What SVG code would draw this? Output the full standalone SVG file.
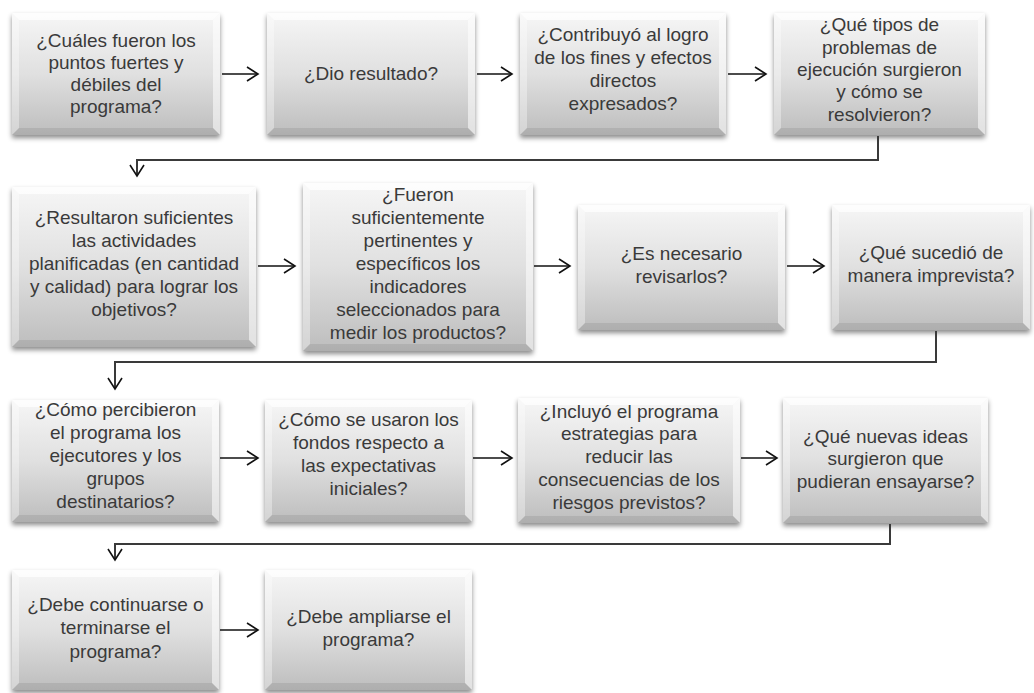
<svg xmlns="http://www.w3.org/2000/svg" width="1034" height="693" viewBox="0 0 1034 693">
<style>
.face{fill:url(#g);filter:url(#sh)}
.bt{fill:#fff;opacity:.75}
.bl{fill:#fff;opacity:.35}
.br{fill:#fff;opacity:.55}
.bb{fill:#000;opacity:.08}
text{font-family:"Liberation Sans",Arial,sans-serif;font-size:19px;fill:#3a3a3a;text-anchor:middle}
.arr{fill:none;stroke:#111;stroke-width:1.6;marker-end:url(#ah)}
.elb{fill:none;stroke:#3a3a3a;stroke-width:2;marker-end:url(#ah)}
</style>
<defs>
<linearGradient id="g" x1="0" y1="0" x2="0" y2="1">
<stop offset="0" stop-color="#f6f6f6"/>
<stop offset="0.5" stop-color="#e0e0e0"/>
<stop offset="1" stop-color="#bdbdbd"/>
</linearGradient>
<filter id="sh" x="-10%" y="-10%" width="120%" height="130%">
<feDropShadow dx="0" dy="3" stdDeviation="2.5" flood-color="#000" flood-opacity="0.45"/>
</filter>
<marker id="ah" markerUnits="userSpaceOnUse" markerWidth="16" markerHeight="18" viewBox="-12 -9 14 18" refX="0" refY="0" orient="auto">
<path d="M-11,-7 L0,0 L-11,7" fill="none" stroke="#111" stroke-width="1.6"/>
</marker>
</defs>
<rect width="1034" height="693" fill="#fff"/>

<g id="n1" transform="translate(12,13)">
<rect class="face" width="208" height="122"/>
<polygon class="bt" points="0,0 208,0 201,7 7,7"/><polygon class="bl" points="0,0 7,7 7,115 0,122"/><polygon class="br" points="208,0 208,122 201,115 201,7"/><polygon class="bb" points="0,122 7,115 201,115 208,122"/>
<text x="104" y="34">¿Cuáles fueron los</text><text x="104" y="56">puntos fuertes y</text><text x="104" y="78">débiles del</text><text x="104" y="100">programa?</text>
</g>
<g id="n2" transform="translate(267,13)">
<rect class="face" width="208" height="122"/>
<polygon class="bt" points="0,0 208,0 201,7 7,7"/><polygon class="bl" points="0,0 7,7 7,115 0,122"/><polygon class="br" points="208,0 208,122 201,115 201,7"/><polygon class="bb" points="0,122 7,115 201,115 208,122"/>
<text x="104" y="67">¿Dio resultado?</text>
</g>
<g id="n3" transform="translate(520,13)">
<rect class="face" width="206" height="122"/>
<polygon class="bt" points="0,0 206,0 199,7 7,7"/><polygon class="bl" points="0,0 7,7 7,115 0,122"/><polygon class="br" points="206,0 206,122 199,115 199,7"/><polygon class="bb" points="0,122 7,115 199,115 206,122"/>
<text x="103" y="28">¿Contribuyó al logro</text><text x="103" y="51">de los fines y efectos</text><text x="103" y="74">directos</text><text x="103" y="97">expresados?</text>
</g>
<g id="n4" transform="translate(774,13)">
<rect class="face" width="211" height="122"/>
<polygon class="bt" points="0,0 211,0 204,7 7,7"/><polygon class="bl" points="0,0 7,7 7,115 0,122"/><polygon class="br" points="211,0 211,122 204,115 204,7"/><polygon class="bb" points="0,122 7,115 204,115 211,122"/>
<text x="105.5" y="18">¿Qué tipos de</text><text x="105.5" y="41">problemas de</text><text x="105.5" y="63">ejecución surgieron</text><text x="105.5" y="85">y cómo se</text><text x="105.5" y="108">resolvieron?</text>
</g>

<g id="n5" transform="translate(12,187)">
<rect class="face" width="244" height="160"/>
<polygon class="bt" points="0,0 244,0 237,7 7,7"/><polygon class="bl" points="0,0 7,7 7,153 0,160"/><polygon class="br" points="244,0 244,160 237,153 237,7"/><polygon class="bb" points="0,160 7,153 237,153 244,160"/>
<text x="122" y="37">¿Resultaron suficientes</text><text x="122" y="60">las actividades</text><text x="122" y="83">planificadas (en cantidad</text><text x="122" y="106">y calidad) para lograr los</text><text x="122" y="129">objetivos?</text>
</g>
<g id="n6" transform="translate(303,183)">
<rect class="face" width="230" height="168"/>
<polygon class="bt" points="0,0 230,0 223,7 7,7"/><polygon class="bl" points="0,0 7,7 7,161 0,168"/><polygon class="br" points="230,0 230,168 223,161 223,7"/><polygon class="bb" points="0,168 7,161 223,161 230,168"/>
<text x="115" y="18">¿Fueron</text><text x="115" y="41">suficientemente</text><text x="115" y="64">pertinentes y</text><text x="115" y="87">específicos los</text><text x="115" y="110">indicadores</text><text x="115" y="133">seleccionados para</text><text x="115" y="156">medir los productos?</text>
</g>
<g id="n7" transform="translate(578,205)">
<rect class="face" width="207" height="125"/>
<polygon class="bt" points="0,0 207,0 200,7 7,7"/><polygon class="bl" points="0,0 7,7 7,118 0,125"/><polygon class="br" points="207,0 207,125 200,118 200,7"/><polygon class="bb" points="0,125 7,118 200,118 207,125"/>
<text x="103.5" y="55">¿Es necesario</text><text x="103.5" y="78">revisarlos?</text>
</g>
<g id="n8" transform="translate(832,205)">
<rect class="face" width="198" height="125"/>
<polygon class="bt" points="0,0 198,0 191,7 7,7"/><polygon class="bl" points="0,0 7,7 7,118 0,125"/><polygon class="br" points="198,0 198,125 191,118 191,7"/><polygon class="bb" points="0,125 7,118 191,118 198,125"/>
<text x="99" y="54">¿Qué sucedió de</text><text x="99" y="77">manera imprevista?</text>
</g>

<g id="n9" transform="translate(12,400)">
<rect class="face" width="207" height="122"/>
<polygon class="bt" points="0,0 207,0 200,7 7,7"/><polygon class="bl" points="0,0 7,7 7,115 0,122"/><polygon class="br" points="207,0 207,122 200,115 200,7"/><polygon class="bb" points="0,122 7,115 200,115 207,122"/>
<text x="103.5" y="16">¿Cómo percibieron</text><text x="103.5" y="39">el programa los</text><text x="103.5" y="62">ejecutores y los</text><text x="103.5" y="85">grupos</text><text x="103.5" y="108">destinatarios?</text>
</g>
<g id="n10" transform="translate(265,400)">
<rect class="face" width="207" height="122"/>
<polygon class="bt" points="0,0 207,0 200,7 7,7"/><polygon class="bl" points="0,0 7,7 7,115 0,122"/><polygon class="br" points="207,0 207,122 200,115 200,7"/><polygon class="bb" points="0,122 7,115 200,115 207,122"/>
<text x="103.5" y="26">¿Cómo se usaron los</text><text x="103.5" y="49">fondos respecto a</text><text x="103.5" y="72">las expectativas</text><text x="103.5" y="95">iniciales?</text>
</g>
<g id="n11" transform="translate(518,398)">
<rect class="face" width="222" height="125"/>
<polygon class="bt" points="0,0 222,0 215,7 7,7"/><polygon class="bl" points="0,0 7,7 7,118 0,125"/><polygon class="br" points="222,0 222,125 215,118 215,7"/><polygon class="bb" points="0,125 7,118 215,118 222,125"/>
<text x="111" y="20">¿Incluyó el programa</text><text x="111" y="42">estrategias para</text><text x="111" y="65">reducir las</text><text x="111" y="88">consecuencias de los</text><text x="111" y="111">riesgos previstos?</text>
</g>
<g id="n12" transform="translate(783,398)">
<rect class="face" width="205" height="125"/>
<polygon class="bt" points="0,0 205,0 198,7 7,7"/><polygon class="bl" points="0,0 7,7 7,118 0,125"/><polygon class="br" points="205,0 205,125 198,118 198,7"/><polygon class="bb" points="0,125 7,118 198,118 205,125"/>
<text x="102.5" y="45">¿Qué nuevas ideas</text><text x="102.5" y="67">surgieron que</text><text x="102.5" y="90">pudieran ensayarse?</text>
</g>

<g id="n13" transform="translate(12,570)">
<rect class="face" width="207" height="120"/>
<polygon class="bt" points="0,0 207,0 200,7 7,7"/><polygon class="bl" points="0,0 7,7 7,113 0,120"/><polygon class="br" points="207,0 207,120 200,113 200,7"/><polygon class="bb" points="0,120 7,113 200,113 207,120"/>
<text x="103.5" y="41">¿Debe continuarse o</text><text x="103.5" y="64">terminarse el</text><text x="103.5" y="88">programa?</text>
</g>
<g id="n14" transform="translate(265,570)">
<rect class="face" width="207" height="120"/>
<polygon class="bt" points="0,0 207,0 200,7 7,7"/><polygon class="bl" points="0,0 7,7 7,113 0,120"/><polygon class="br" points="207,0 207,120 200,113 200,7"/><polygon class="bb" points="0,120 7,113 200,113 207,120"/>
<text x="103.5" y="53">¿Debe ampliarse el</text><text x="103.5" y="76">programa?</text>
</g>

<g id="connectors">
<path class="arr" d="M222,74 H258"/>
<path class="arr" d="M477,74 H512"/>
<path class="arr" d="M728,74 H766"/>
<path class="elb" d="M878,136 V160 H137 V176"/>
<path class="arr" d="M258,266 H295"/>
<path class="arr" d="M534,266 H570"/>
<path class="arr" d="M787,266 H824"/>
<path class="elb" d="M936,331 V362 H115 V389"/>
<path class="arr" d="M220,458 H258"/>
<path class="arr" d="M473,458 H512"/>
<path class="arr" d="M741,458 H777"/>
<path class="elb" d="M890,524 V544 H115 V560"/>
<path class="arr" d="M220,630 H258"/>
</g>
</svg>
